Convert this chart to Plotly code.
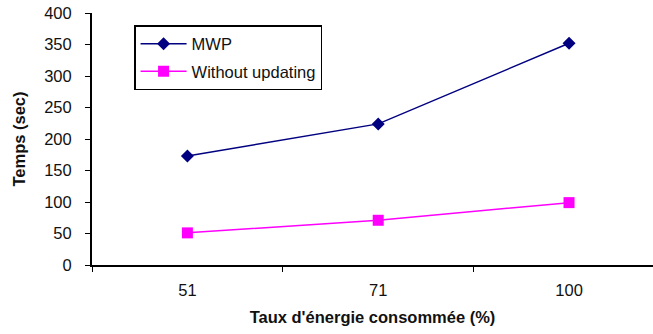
import plotly.graph_objects as go

# Energy consumption rate categories (x) and time in seconds (y)
categories = ["51", "71", "100"]
mwp_times = [173, 224, 352]
without_updating_times = [51, 71, 99]

font_family = "Arial, Liberation Sans, sans-serif"

fig = go.Figure()
fig.add_trace(go.Scatter(
    x=categories, y=mwp_times, name="MWP", mode="lines+markers",
    line=dict(color="#000080", width=1.5),
    marker=dict(symbol="diamond", size=10, color="#000080"),
    legendgroup="a",
))
fig.add_trace(go.Scatter(
    x=categories, y=without_updating_times, name="Without updating", mode="lines+markers",
    line=dict(color="#FF00FF", width=1.5),
    marker=dict(symbol="square", size=11, color="#FF00FF"),
    legendgroup="b",
))

fig.update_layout(
    width=653, height=334,
    margin=dict(l=92, r=0, t=13, b=69),
    paper_bgcolor="white", plot_bgcolor="white",
    font=dict(family=font_family, size=16.5, color="#111"),
    showlegend=True,
    legend=dict(
        x=0.075, y=0.952, xanchor="left", yanchor="top",
        bordercolor="black", borderwidth=1.5, bgcolor="white",
        font=dict(size=16.5, color="#111"),
        itemwidth=46, tracegroupgap=3,
    ),
    xaxis=dict(
        type="category", range=[-0.5, 2.44],
        showline=True, linecolor="black", linewidth=2,
        ticks="outside", tickson="boundaries", ticklen=5, tickcolor="black",
        showgrid=False, zeroline=False,
        ticklabelstandoff=9,
        title=dict(text="<b>Taux d'énergie consommée (%)</b>", font=dict(size=16.5), standoff=14),
    ),
    yaxis=dict(
        range=[0, 400], dtick=50,
        showline=True, linecolor="black", linewidth=2,
        ticks="outside", ticklen=5, tickcolor="black",
        showgrid=False, zeroline=False,
        ticklabelstandoff=10,
        title=dict(text="<b>Temps (sec)</b>", font=dict(size=16.5), standoff=14),
    ),
)

fig.write_html("out.html")
